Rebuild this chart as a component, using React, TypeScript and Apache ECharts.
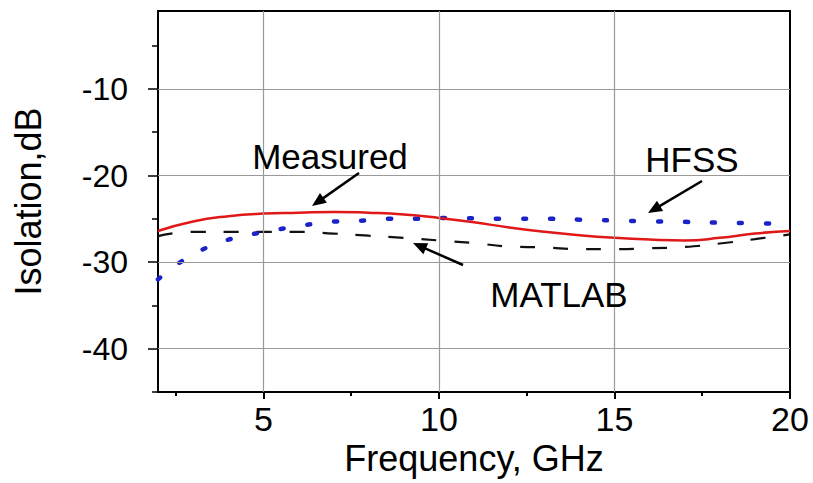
import React, { useEffect, useRef } from "react";
import * as echarts from "echarts";

// ---- data ----
const measuredFreq = [2, 3, 4, 5, 6, 7, 8, 9, 10, 11, 12, 13, 14, 15, 16, 17, 18, 19, 20];
const measuredDb = [-26.4, -25.3, -24.7, -24.4, -24.3, -24.2, -24.3, -24.5, -24.9, -25.4, -26.0, -26.5, -26.9, -27.2, -27.4, -27.5, -27.2, -26.7, -26.4];

const hfssFreq = [2, 2.6, 3.4, 4.1, 4.9, 5.6, 6.4, 7.1, 7.9, 8.6, 9.4, 10.2, 11, 12, 13, 14, 15, 16, 17, 18, 19, 20];
const hfssDb = [-32.0, -30.1, -28.3, -27.3, -26.6, -26.1, -25.6, -25.3, -25.2, -25.0, -25.0, -24.9, -24.95, -25.0, -25.0, -25.1, -25.2, -25.3, -25.35, -25.45, -25.5, -25.6];

const matlabFreq = [2, 3, 4, 5, 6, 7, 8, 9, 10, 11, 12, 13, 14, 15, 16, 17, 18, 19, 20];
const matlabDb = [-27.0, -26.5, -26.5, -26.5, -26.5, -26.7, -26.95, -27.2, -27.5, -27.8, -28.2, -28.3, -28.5, -28.5, -28.4, -28.25, -27.85, -27.35, -26.8];

const xMajorTicks = [5, 10, 15, 20];
const xMinorTicks = [2.5, 7.5, 12.5, 17.5];
const xGridValues = [5, 10, 15];
const yMajorTicks = [-40, -30, -20, -10];
const yMinorTicks = [-45, -35, -25, -15, -5];
const xRange = [2, 20];
const yRange = [-45, -1];

const FONT = "'Liberation Sans', Arial, sans-serif";

function pairs(xs: number[], ys: number[]) {
  return xs.map((x, i) => [x, ys[i]]);
}

function arrow(x1: number, y1: number, x2: number, y2: number) {
  const dx = x2 - x1;
  const dy = y2 - y1;
  const len = Math.sqrt(dx * dx + dy * dy);
  const ux = dx / len;
  const uy = dy / len;
  const hl = 14;
  const hw = 6;
  const bx = x2 - ux * hl;
  const by = y2 - uy * hl;
  return [
    {
      type: "line",
      shape: { x1, y1, x2: bx + ux * 2, y2: by + uy * 2 },
      style: { stroke: "#000", lineWidth: 2.5 },
      z: 100,
    },
    {
      type: "polygon",
      shape: {
        points: [
          [x2, y2],
          [bx - uy * hw, by + ux * hw],
          [bx + uy * hw, by - ux * hw],
        ],
      },
      style: { fill: "#000" },
      z: 100,
    },
  ];
}

export default function App() {
  const ref = useRef<HTMLDivElement>(null);

  useEffect(() => {
    if (!ref.current) return;
    const chart = echarts.init(ref.current, null, { renderer: "svg" });
    const gridLeft = 158;
    const gridRight = 23;
    const gridTop = 11;
    const gridBottom = 91;
    const gridW = 813 - gridLeft - gridRight;
    const gridH = 483 - gridTop - gridBottom;

    const option: any = {
      animation: false,
      backgroundColor: "#ffffff",
      grid: {
        left: gridLeft,
        right: gridRight,
        top: gridTop,
        bottom: gridBottom,
        show: true,
        borderColor: "#000",
        borderWidth: 2,
        backgroundColor: "transparent",
      },
      xAxis: [
        {
          type: "value",
          min: xRange[0],
          max: xRange[1],
          position: "bottom",
          name: "Frequency, GHz",
          nameLocation: "middle",
          nameGap: 46,
          nameTextStyle: { fontFamily: FONT, fontSize: 36, color: "#000", verticalAlign: "top" },
          axisLine: { show: true, lineStyle: { color: "#000", width: 2 } },
          axisTick: { show: true, customValues: xMajorTicks, length: 7, lineStyle: { color: "#000", width: 2 } },
          axisLabel: {
            show: true,
            customValues: xMajorTicks,
            fontFamily: FONT,
            fontSize: 34,
            color: "#000",
            margin: 10,
          },
          splitLine: { show: false },
        },
        {
          type: "value",
          min: xRange[0],
          max: xRange[1],
          position: "top",
          offset: -gridH,
          axisLine: { show: false },
          axisTick: { show: true, inside: true, customValues: xMinorTicks, length: 4, lineStyle: { color: "#000", width: 2 } },
          axisLabel: { show: false },
          splitLine: { show: false },
        },
      ],
      yAxis: [
        {
          type: "value",
          min: yRange[0],
          max: yRange[1],
          position: "left",
          name: "Isolation,dB",
          nameLocation: "middle",
          nameRotate: 90,
          nameGap: 112,
          nameTextStyle: { fontFamily: FONT, fontSize: 36, color: "#000" },
          axisLine: { show: true, lineStyle: { color: "#000", width: 2 } },
          axisTick: { show: true, customValues: yMajorTicks, length: 10, lineStyle: { color: "#000", width: 1.5 } },
          axisLabel: {
            show: true,
            customValues: yMajorTicks,
            fontFamily: FONT,
            fontSize: 32,
            color: "#000",
            margin: 30,
          },
          splitLine: { show: false },
        },
        {
          type: "value",
          min: yRange[0],
          max: yRange[1],
          position: "right",
          offset: -gridW,
          axisLine: { show: false },
          axisTick: { show: true, inside: true, customValues: yMinorTicks, length: 6, lineStyle: { color: "#000", width: 1.5 } },
          axisLabel: { show: false },
          splitLine: { show: false },
        },
      ],
      series: [
        {
          type: "line",
          name: "grid",
          data: [],
          silent: true,
          z: 1,
          markLine: {
            silent: true,
            symbol: ["none", "none"],
            label: { show: false },
            lineStyle: { color: "#9a9a9a", width: 1.2, type: "solid" },
            data: [
              ...xGridValues.map((v) => ({ xAxis: v })),
              ...yMajorTicks.map((v) => ({ yAxis: v })),
            ],
          },
        },
        {
          type: "line",
          name: "MATLAB",
          data: pairs(matlabFreq, matlabDb),
          smooth: true,
          showSymbol: false,
          z: 3,
          lineStyle: { color: "#111", width: 2.2, type: [15, 18] },
        },
        {
          type: "line",
          name: "HFSS",
          data: pairs(hfssFreq, hfssDb),
          smooth: true,
          showSymbol: false,
          z: 3,
          lineStyle: { color: "#1a22c8", width: 4.5, type: [3, 24], cap: "round" },
        },
        {
          type: "line",
          name: "Measured",
          data: pairs(measuredFreq, measuredDb),
          smooth: true,
          showSymbol: false,
          z: 4,
          lineStyle: { color: "#e01818", width: 2.5 },
        },
      ],
      graphic: [
        {
          type: "text",
          x: 330,
          y: 156,
          style: { text: "Measured", fontFamily: FONT, fontSize: 35, fill: "#000", align: "center", verticalAlign: "middle" },
          z: 100,
        },
        {
          type: "text",
          x: 692,
          y: 159,
          style: { text: "HFSS", fontFamily: FONT, fontSize: 35, fill: "#000", align: "center", verticalAlign: "middle" },
          z: 100,
        },
        {
          type: "text",
          x: 559,
          y: 294,
          style: { text: "MATLAB", fontFamily: FONT, fontSize: 35, fill: "#000", align: "center", verticalAlign: "middle" },
          z: 100,
        },
        ...arrow(359, 173, 312, 206),
        ...arrow(702, 181, 648, 213),
        ...arrow(463, 265, 413, 243),
      ],
    };
    chart.setOption(option);
    return () => chart.dispose();
  }, []);

  return (
    <div
      ref={ref}
      style={{ position: "fixed", left: 0, top: 0, width: 813, height: 483, background: "#fff" }}
    />
  );
}
